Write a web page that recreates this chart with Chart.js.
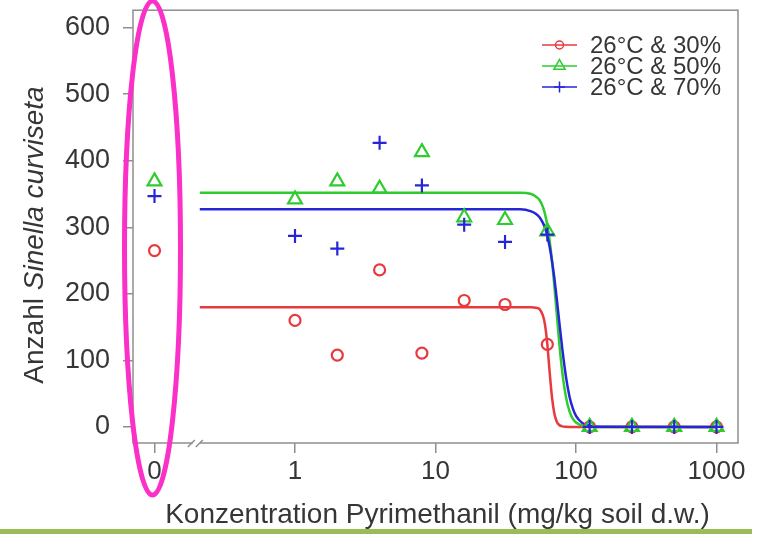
<!DOCTYPE html>
<html>
<head>
<meta charset="utf-8">
<script src="https://cdn.jsdelivr.net/npm/chart.js@4.4.0/dist/chart.umd.min.js"></script>
<style>
  html, body { margin: 0; padding: 0; background: #fff; }
  canvas { display: block; }
</style>
</head>
<body>
<canvas id="doseChart" width="761" height="534"></canvas>
<script>
const seriesLabels = ['26°C & 30%', '26°C & 50%', '26°C & 70%'];

// observed counts per dose (mg/kg), dose 0 = control
const doses = [0, 1, 2, 4, 8, 16, 31.25, 62.5, 125, 250, 500, 1000];
const counts30 = [265, 160, 108, 236, 111, 190, 184, 124, 0, 0, 0, 0];
const counts50 = [369, 342, 369, 358, 413, 315, 311, 294, 0, 0, 0, 0];
const counts70 = [347, 287, 268, 427, 363, 304, 278, 289, 0, 0, 0, 0];

// fitted dose-response curves
const fitDoses = [0.21, 40, 48, 52, 55, 58, 60, 62.5, 65, 67.5, 70, 73, 76, 80, 85, 90, 95, 100, 110, 125, 150, 1000];
const fit30 = [180, 180, 180, 179, 177, 168, 155, 124, 81, 44, 21, 7.8, 2.9, 0.8, 0.2, 0, 0, 0, 0, 0, 0, 0];
const fit50 = [352, 352, 350, 346, 341, 331, 321, 303, 279, 249, 213, 169, 126, 81, 44, 23, 12, 6.6, 2.1, 0.4, 0, 0];
const fit70 = [327, 327, 324, 320, 315, 307, 300, 287, 270, 249, 225, 192, 158, 116, 74, 45, 27.5, 16.7, 6.4, 1.7, 0.3, 0];

const xTicks = [0, 1, 10, 100, 1000];
const yTicks = [0, 100, 200, 300, 400, 500, 600];

const zeroPos = 0.1;   // where the control (0) sits on the log axis
const breakAt = 0.2;   // axis break between control and doses

const colors = ['#e8393e', '#2fcc2f', '#2626d8'];
const markers = [
  { pointStyle: 'circle', radius: 5.5 },
  { pointStyle: 'triangle', radius: 8 },
  { pointStyle: 'cross', radius: 7 }
];

const FONT = "'Liberation Sans', Arial, Helvetica, sans-serif";
const TXT = '#363636';

function pts(xs, ys) {
  return xs.map((d, i) => ({ x: d === 0 ? zeroPos : d, y: ys[i] }));
}

const fits = [fit30, fit50, fit70];
const counts = [counts30, counts50, counts70];
const datasets = [];

fits.forEach((f, i) => {
  datasets.push({
    type: 'line',
    label: 'fit ' + seriesLabels[i],
    data: pts(fitDoses, f),
    borderColor: colors[i],
    borderWidth: 2.5,
    pointRadius: 0,
    fill: false,
    cubicInterpolationMode: 'monotone',
    order: 10 - i
  });
});
counts.forEach((c, i) => {
  datasets.push({
    type: 'scatter',
    label: seriesLabels[i],
    data: pts(doses, c),
    borderColor: colors[i],
    backgroundColor: 'rgba(0,0,0,0)',
    borderWidth: 2.2,
    pointStyle: markers[i].pointStyle,
    pointRadius: markers[i].radius,
    showLine: false,
    order: 5 - i
  });
});

const extras = {
  id: 'extras',
  afterDraw(chart) {
    const { ctx, chartArea: a, scales: { x } } = chart;
    ctx.save();

    // frame
    ctx.strokeStyle = '#8e8e8e';
    ctx.lineWidth = 1.5;
    ctx.strokeRect(a.left, a.top, a.right - a.left, a.bottom - a.top);

    // axis break
    const bx = x.getPixelForValue(breakAt);
    ctx.fillStyle = '#fff';
    ctx.fillRect(bx - 4, a.bottom - 2, 7, 4);
    ctx.beginPath();
    ctx.moveTo(bx - 9, a.bottom + 4); ctx.lineTo(bx - 2, a.bottom - 3);
    ctx.moveTo(bx - 1, a.bottom + 4); ctx.lineTo(bx + 6, a.bottom - 3);
    ctx.stroke();

    // legend
    ctx.font = '24px ' + FONT;
    ctx.textBaseline = 'middle';
    ctx.textAlign = 'left';
    const rows = [45, 66, 87];
    seriesLabels.forEach((lab, i) => {
      const yy = rows[i];
      ctx.strokeStyle = colors[i];
      ctx.lineWidth = 1.5;
      ctx.beginPath();
      ctx.moveTo(542, yy); ctx.lineTo(577, yy);
      ctx.stroke();
      ctx.fillStyle = 'rgba(0,0,0,0)';
      Chart.helpers.drawPoint(ctx, {
        pointStyle: markers[i].pointStyle, radius: markers[i].radius - 1.5,
        borderWidth: 1.5, rotation: 0
      }, 559.5, yy);
      ctx.fillStyle = TXT;
      ctx.fillText(lab, 590, yy + 1);
    });

    // x title
    ctx.fillStyle = TXT;
    ctx.font = '28px ' + FONT;
    ctx.textAlign = 'center';
    ctx.textBaseline = 'alphabetic';
    ctx.fillText('Konzentration Pyrimethanil (mg/kg soil d.w.)', (a.left + a.right) / 2 + 2, 523);

    // y title with italic species name
    ctx.save();
    ctx.translate(43, 235);
    ctx.rotate(-Math.PI / 2);
    ctx.textAlign = 'left';
    ctx.font = '28px ' + FONT;
    const p1 = 'Anzahl ';
    const w1 = ctx.measureText(p1).width;
    ctx.font = 'italic 28px ' + FONT;
    const p2 = 'Sinella curviseta';
    const w2 = ctx.measureText(p2).width;
    const sx = -(w1 + w2) / 2;
    ctx.font = '28px ' + FONT;
    ctx.fillText(p1, sx, 0);
    ctx.font = 'italic 28px ' + FONT;
    ctx.fillText(p2, sx + w1, 0);
    ctx.restore();

    // highlight around the control
    const cx = x.getPixelForValue(zeroPos) - 2;
    ctx.strokeStyle = '#fb30c8';
    ctx.lineWidth = 5;
    ctx.beginPath();
    ctx.ellipse(cx, 248, 28, 247, 0, 0, Math.PI * 2);
    ctx.stroke();

    // bottom bar
    ctx.fillStyle = '#9bbb59';
    ctx.fillRect(0, 529, 752, 5);

    ctx.restore();
  }
};

const ctx = document.getElementById('doseChart').getContext('2d');
new Chart(ctx, {
  data: { datasets: datasets },
  options: {
    responsive: false,
    animation: false,
    layout: { padding: { top: 5, right: 23, left: 0, bottom: 0 } },
    plugins: {
      legend: { display: false },
      tooltip: { enabled: false }
    },
    scales: {
      x: {
        type: 'logarithmic',
        min: 0.0703,
        max: 1422,
        afterBuildTicks: s => { s.ticks = xTicks.map(v => ({ value: v === 0 ? zeroPos : v })); },
        afterFit: s => { s.height = 91; s.paddingLeft = 0; s.paddingRight = 0; },
        grid: { drawOnChartArea: false, drawTicks: true, tickLength: 10, color: '#8e8e8e', lineWidth: 1.5 },
        border: { display: false },
        ticks: {
          autoSkip: false,
          maxRotation: 0,
          padding: 3,
          color: TXT,
          font: { family: FONT, size: 26 },
          callback: v => (v === zeroPos ? '0' : String(v))
        }
      },
      y: {
        type: 'linear',
        min: -24.2,
        max: 626.3,
        afterBuildTicks: s => { s.ticks = yTicks.map(v => ({ value: v })); },
        afterFit: s => { s.width = 133; s.paddingTop = 0; s.paddingBottom = 0; },
        grid: { drawOnChartArea: false, drawTicks: true, tickLength: 10, color: '#8e8e8e', lineWidth: 1.5 },
        border: { display: false },
        ticks: {
          padding: 13,
          color: TXT,
          font: { family: FONT, size: 27 }
        }
      }
    }
  },
  plugins: [extras]
});
</script>
</body>
</html>
